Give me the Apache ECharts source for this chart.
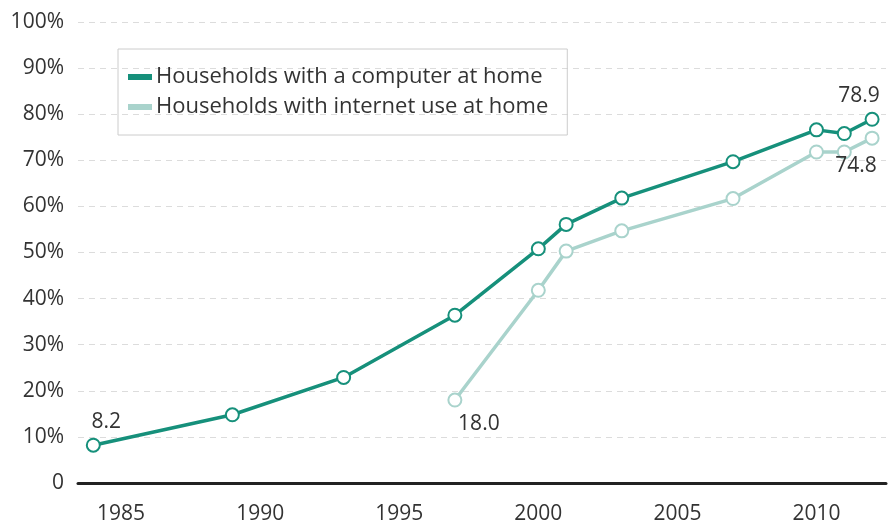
<!DOCTYPE html>
<html>
<head>
<meta charset="utf-8">
<script src="https://cdn.jsdelivr.net/npm/echarts@6/dist/echarts.min.js"></script>
<style>html,body{margin:0;padding:0;background:#fff}#c{width:896px;height:525px}</style>
</head>
<body>
<div id="c"></div>
<script>
const computerYears = [1984, 1989, 1993, 1997, 2000, 2001, 2003, 2007, 2010, 2011, 2012];
const computerValues = [8.2, 14.8, 22.9, 36.4, 50.8, 56.1, 61.8, 69.7, 76.6, 75.8, 78.9];
const internetYears = [1997, 2000, 2001, 2003, 2007, 2010, 2011, 2012];
const internetValues = [18.0, 41.8, 50.3, 54.7, 61.7, 71.8, 71.8, 74.8];
const seriesNames = ['Households with a computer at home', 'Households with internet use at home'];
const yTicks = [0, 10, 20, 30, 40, 50, 60, 70, 80, 90, 100];

const FONT = '"Open Sans", "Noto Sans", sans-serif';
const C1 = '#16907b';
const C2 = '#a9d3cc';

function pairs(xs, ys) { return xs.map((x, i) => [x, ys[i]]); }

const compData = pairs(computerYears, computerValues).map((p, i, arr) => {
  const o = { value: p };
  if (i === 0) o.label = { show: true, position: 'top', offset: [13, 0], formatter: p[1].toFixed(1) };
  if (i === arr.length - 1) o.label = { show: true, position: 'top', offset: [-13, 0], formatter: p[1].toFixed(1) };
  return o;
});
const netData = pairs(internetYears, internetValues).map((p, i, arr) => {
  const o = { value: p };
  if (i === 0) o.label = { show: true, position: 'bottom', offset: [24, 1], formatter: p[1].toFixed(1) };
  if (i === arr.length - 1) o.label = { show: true, position: 'bottom', offset: [-16, 5], formatter: p[1].toFixed(1) };
  return o;
});

const chart = echarts.init(document.getElementById('c'), null, { renderer: 'canvas' });
chart.setOption({
  animation: false,
  backgroundColor: '#fff',
  textStyle: { fontFamily: FONT },
  grid: { left: 78, right: 10, top: 22, bottom: 41, containLabel: false },
  legend: {
    orient: 'vertical',
    left: 118, top: 49,
    padding: [14, 19, 14, 10],
    itemGap: 2,
    itemWidth: 22, itemHeight: 4,
    icon: 'rect',
    borderColor: '#cccccc', borderWidth: 1,
    textStyle: { fontSize: 22, color: '#333', fontFamily: FONT, lineHeight: 28 },
    data: seriesNames
  },
  xAxis: {
    type: 'value',
    min: 1983.45, max: 2012.5,
    splitNumber: 6,
    axisLine: { show: true, onZero: true, lineStyle: { color: '#222', width: 3 } },
    axisTick: { show: false },
    splitLine: { show: false },
    axisLabel: {
      fontSize: 21, color: '#333', margin: 21, fontFamily: FONT,
      showMinLabel: false, showMaxLabel: false,
      formatter: v => (Math.abs(v % 5) < 1e-6 ? String(v) : '')
    }
  },
  yAxis: {
    type: 'value',
    min: yTicks[0], max: yTicks[yTicks.length - 1], interval: 10,
    axisLine: { show: false },
    axisTick: { show: false },
    splitLine: { show: true, lineStyle: { color: '#dcdcdc', type: [6, 5], width: 1 } },
    axisLabel: {
      fontSize: 21, color: '#333', margin: 14, fontFamily: FONT,
      formatter: v => (v === 0 ? '0' : v + '%')
    }
  },
  series: [
    {
      name: seriesNames[1], type: 'line', data: netData,
      symbol: 'emptyCircle', symbolSize: 13,
      lineStyle: { color: C2, width: 3.5 },
      itemStyle: { color: C2, borderColor: C2, borderWidth: 3.5 },
      label: { fontSize: 21, color: '#333', fontFamily: FONT },
      z: 2
    },
    {
      name: seriesNames[0], type: 'line', data: compData,
      symbol: 'emptyCircle', symbolSize: 13,
      lineStyle: { color: C1, width: 3.5 },
      itemStyle: { color: C1, borderColor: C1, borderWidth: 3.5 },
      label: { fontSize: 21, color: '#333', fontFamily: FONT },
      z: 3
    }
  ]
});
</script>
</body>
</html>
